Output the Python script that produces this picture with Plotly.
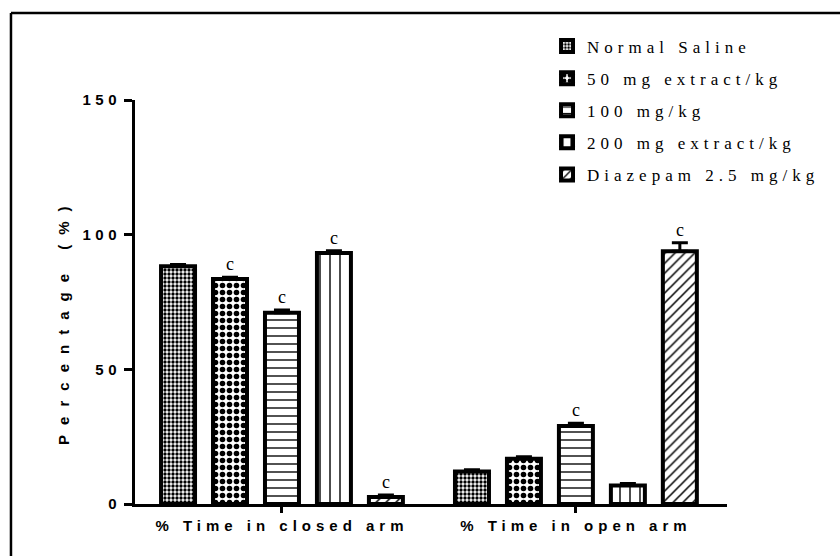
import plotly.graph_objects as go

# Elevated plus maze: percentage of time spent in each arm
categories = ["% Time in closed arm", "% Time in open arm"]
group_names = ["Normal Saline", "50 mg extract/kg", "100 mg/kg",
               "200 mg extract/kg", "Diazepam 2.5 mg/kg"]

normal_saline = [88.3, 12.1]
extract_50 = [83.5, 16.8]
extract_100 = [71.0, 29.0]
extract_200 = [93.2, 6.9]
diazepam = [2.6, 93.8]

sem_normal_saline = [0.6, 0.6]
sem_extract_50 = [0.7, 0.7]
sem_extract_100 = [1.0, 1.0]
sem_extract_200 = [0.8, 0.7]
sem_diazepam = [0.7, 3.2]

sig_normal_saline = ["", ""]
sig_extract_50 = ["c", ""]
sig_extract_100 = ["c", "c"]
sig_extract_200 = ["c", ""]
sig_diazepam = ["c", "c"]

y_ticks = [0, 50, 100, 150]

values = [normal_saline, extract_50, extract_100, extract_200, diazepam]
sems = [sem_normal_saline, sem_extract_50, sem_extract_100, sem_extract_200, sem_diazepam]
sigs = [sig_normal_saline, sig_extract_50, sig_extract_100, sig_extract_200, sig_diazepam]

patterns = [
    dict(shape=".", size=4, solidity=0.55),
    dict(shape=".", size=7, solidity=0.5),
    dict(shape="-", size=8, solidity=0.17),
    dict(shape="|", size=10, solidity=0.14),
    dict(shape="/", size=7, solidity=0.22),
]

SANS = "Liberation Sans"
SERIF = "Liberation Serif"


def spaced(text, px):
    return f'<span style="letter-spacing:{px}px">{text}</span>'


BARGAP = 0.116
n = len(group_names)

fig = go.Figure()
for i, (name, vals, err, pat) in enumerate(zip(group_names, values, sems, patterns)):
    fig.add_trace(go.Bar(
        x=categories, y=vals,
        name=spaced(name, 5),
        legendgroup=f"g{i}",
        marker=dict(color="white",
                    line=dict(color="black", width=4),
                    pattern=dict(fgcolor="black", bgcolor="white",
                                 fillmode="replace", **pat)),
        error_y=dict(type="data", array=err, arrayminus=[0] * len(err),
                     symmetric=False, color="black", thickness=3, width=8),
    ))

# significance letters above each bar's error bar
slot = (1 - BARGAP) / n
annotations = []
for i, (vals, err, sig) in enumerate(zip(values, sems, sigs)):
    for j, s in enumerate(sig):
        if s:
            annotations.append(dict(
                x=j + (i - (n - 1) / 2) * slot, y=vals[j] + err[j],
                xref="x", yref="y", text=s, showarrow=False,
                yanchor="bottom", yshift=1,
                font=dict(family=SERIF, size=18, color="black")))

annotations.append(dict(
    x=-0.1385, y=0.452, xref="paper", yref="paper",
    text=spaced("Percentage (%)", 10), textangle=-90,
    showarrow=False,
    font=dict(family=SANS, size=15, color="black", weight="bold")))

fig.update_layout(
    width=840, height=556,
    margin=dict(l=135, r=113, t=100, b=52),
    paper_bgcolor="white", plot_bgcolor="white",
    barmode="group", bargap=BARGAP, bargroupgap=0.346,
    showlegend=True,
    legend=dict(x=0.696, y=1.177, xanchor="left", yanchor="top",
                traceorder="grouped", tracegroupgap=7,
                font=dict(family=SERIF, size=17, color="black"),
                bgcolor="rgba(0,0,0,0)"),
    annotations=annotations,
    xaxis=dict(range=[-0.5, 1.514], showgrid=False, zeroline=False,
               showline=True, linecolor="black", linewidth=3,
               ticks="outside", ticklen=6, tickwidth=3, tickcolor="black",
               tickvals=categories,
               ticktext=[spaced(c, 5) for c in categories],
               tickfont=dict(family=SANS, size=15, color="black", weight="bold")),
    yaxis=dict(range=[0, 150], showgrid=False, zeroline=False,
               showline=True, linecolor="black", linewidth=3,
               ticks="outside", ticklen=8, tickwidth=3, tickcolor="black",
               tickvals=y_ticks,
               ticktext=[spaced(str(t), 4.5) for t in y_ticks],
               tickfont=dict(family=SANS, size=15, color="black", weight="bold")),
    shapes=[
        dict(type="line", xref="paper", yref="paper",
             x0=-0.2095, x1=-0.2095, y0=-0.2, y1=1.2153,
             line=dict(color="black", width=2.5)),
        dict(type="line", xref="paper", yref="paper",
             x0=-0.2095, x1=1.25, y0=1.2153, y1=1.2153,
             line=dict(color="black", width=2.5)),
    ],
)

fig.write_html("out.html")
